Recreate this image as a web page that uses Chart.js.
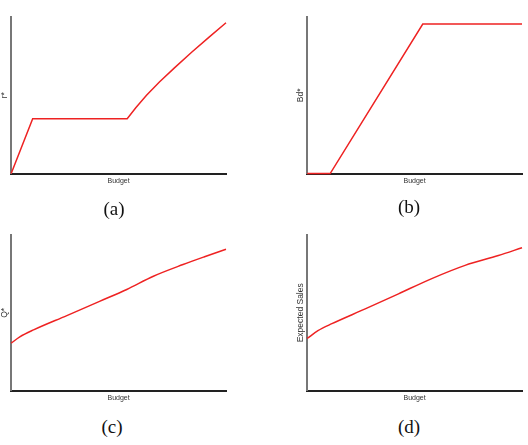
<!DOCTYPE html>
<html>
<head>
<meta charset="utf-8">
<script src="https://cdn.jsdelivr.net/npm/chart.js@4/dist/chart.umd.min.js"></script>
<style>
  body { margin: 0; background: #fff; width: 528px; height: 445px; position: relative; overflow: hidden; }
  .panel { position: absolute; }
  .cap { position: absolute; width: 40px; text-align: center; font-family: "Liberation Serif", serif; font-size: 19px; color: #111; }
</style>
</head>
<body>
<div class="panel" style="left:0px;top:0px;width:232px;height:190px"><canvas id="chartA"></canvas></div>
<div class="panel" style="left:296px;top:0px;width:232px;height:190px"><canvas id="chartB"></canvas></div>
<div class="panel" style="left:0px;top:218px;width:232px;height:189px"><canvas id="chartC"></canvas></div>
<div class="panel" style="left:296px;top:218px;width:232px;height:189px"><canvas id="chartD"></canvas></div>
<div class="cap" style="left:94px;top:198px">(a)</div>
<div class="cap" style="left:389px;top:196px">(b)</div>
<div class="cap" style="left:92px;top:416px">(c)</div>
<div class="cap" style="left:389px;top:416px">(d)</div>
<script>
// values (budget scaled 0..1, y scaled 0..1)
var budgetA = [0, 0.10, 0.54, 0.58, 0.63, 0.69, 0.76, 0.84, 0.92, 1.0];
var rStar   = [0, 0.35, 0.35, 0.42, 0.50, 0.585, 0.675, 0.775, 0.87, 0.963];

var budgetB = [0, 0.107, 0.538, 1.0];
var bdStar  = [0, 0, 0.955, 0.955];

var budgetC = [0, 0.04, 0.104, 0.259, 0.414, 0.538, 0.662, 0.80, 0.90, 1.0];
var qStar   = [0.305, 0.345, 0.39, 0.482, 0.575, 0.65, 0.735, 0.81, 0.86, 0.908];

var budgetD = [0, 0.05, 0.115, 0.27, 0.425, 0.58, 0.735, 0.89, 1.0];
var sales   = [0.335, 0.385, 0.43, 0.525, 0.622, 0.72, 0.805, 0.868, 0.918];

var yTitles = ['r*', 'Bd*', 'Q*', 'Expected Sales'];

function points(xs, ys) {
    return xs.map(function (x, i) { return { x: x, y: ys[i] }; });
}

function makeChart(id, xs, ys, yTitle, smooth) {
    var ctx = document.getElementById(id).getContext('2d');
    return new Chart(ctx, {
        type: 'line',
        data: {
            datasets: [{
                data: points(xs, ys),
                borderColor: '#ee2222',
                borderWidth: 1.5,
                pointRadius: 0,
                tension: 0,
                cubicInterpolationMode: smooth ? 'monotone' : 'default',
                clip: false
            }]
        },
        options: {
            responsive: true,
            maintainAspectRatio: false,
            animation: false,
            layout: { padding: { top: 17, right: 6, bottom: 5, left: 0 } },
            plugins: { legend: { display: false }, tooltip: { enabled: false } },
            scales: {
                x: {
                    type: 'linear', min: 0, max: 1,
                    grid: { display: false, drawTicks: false },
                    border: { display: true, color: '#222', width: 2 },
                    ticks: { display: false },
                    title: {
                        display: true, text: 'Budget', color: '#333',
                        font: { family: 'Liberation Sans', size: 7 },
                        padding: { top: 3, bottom: 0 }
                    }
                },
                y: {
                    type: 'linear', min: 0, max: 1,
                    grid: { display: false, drawTicks: false },
                    border: { display: true, color: '#777', width: 2 },
                    ticks: { display: false },
                    title: {
                        display: true, text: yTitle, color: '#333',
                        font: { family: 'Liberation Sans', size: 8.5 },
                        padding: { top: 0, bottom: 1 }
                    }
                }
            }
        }
    });
}

makeChart('chartA', budgetA, rStar, yTitles[0], false);
makeChart('chartB', budgetB, bdStar, yTitles[1], false);
makeChart('chartC', budgetC, qStar, yTitles[2], true);
makeChart('chartD', budgetD, sales, yTitles[3], true);
</script>
</body>
</html>
